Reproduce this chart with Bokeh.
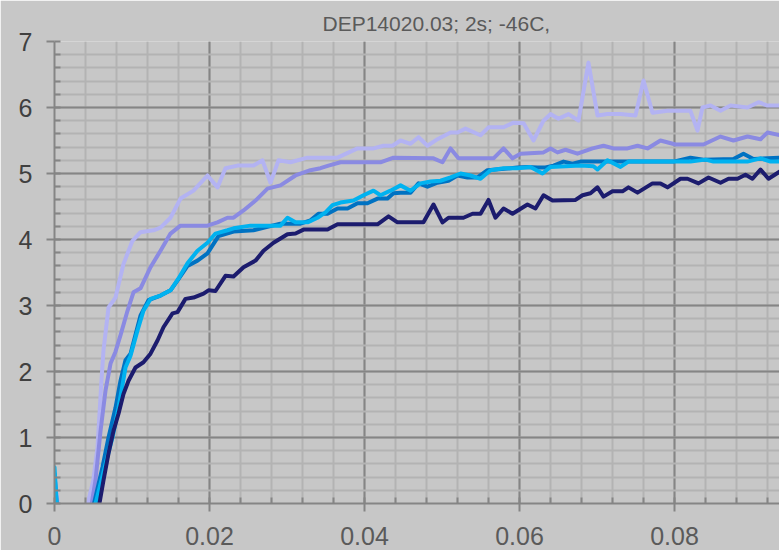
from bokeh.plotting import figure
from bokeh.models import FixedTicker
from bokeh.embed import file_html
from bokeh.resources import INLINE

title_text = "DEP14020.03; 2s; -46C,"

x_ticks = [0, 0.02, 0.04, 0.06, 0.08]
x_tick_labels = ["0", "0.02", "0.04", "0.06", "0.08"]
y_ticks = [0, 1, 2, 3, 4, 5, 6, 7]

# series 1 (lightest lavender)
L_x = [0, 0.0015, 0.0035, 0.0043, 0.0050, 0.00555, 0.00606, 0.00632, 0.00697, 0.00787, 0.0089, 0.01006, 0.0111,
       0.01277, 0.01368, 0.01497, 0.01626, 0.01794, 0.01974, 0.02103, 0.02206, 0.02361, 0.02568, 0.02684, 0.02787,
       0.0289, 0.03045, 0.03265, 0.03394, 0.03652, 0.0391, 0.04116, 0.04245, 0.04361, 0.04465, 0.04594, 0.04697,
       0.04813, 0.04942, 0.0511, 0.052, 0.05303, 0.05497, 0.056, 0.05794, 0.05923, 0.06052, 0.06181, 0.0631, 0.064,
       0.06503, 0.06632, 0.06761, 0.0689, 0.07006, 0.07135, 0.07303, 0.07497, 0.076, 0.07716, 0.0791, 0.08206,
       0.08297, 0.08361, 0.08465, 0.08594, 0.08723, 0.08942, 0.09084, 0.092, 0.0936]
L_y = [0.4, -1, -1, 0, 0.35, 0.85, 1.86, 2.32, 2.97, 3.12, 3.63, 3.98, 4.11, 4.14, 4.18, 4.33, 4.62, 4.74, 4.97,
       4.79, 5.08, 5.12, 5.12, 5.2, 4.86, 5.2, 5.17, 5.24, 5.24, 5.24, 5.38, 5.38, 5.42, 5.42, 5.5, 5.45, 5.55, 5.42,
       5.52, 5.62, 5.62, 5.68, 5.58, 5.7, 5.7, 5.77, 5.76, 5.5, 5.8, 5.9, 5.83, 5.9, 5.8, 6.68, 5.88, 5.9, 5.9, 5.88,
       6.41, 5.92, 5.95, 5.95, 5.65, 6.0, 6.03, 5.95, 6.03, 6.0, 6.08, 6.03, 6.03]

# series 2 (medium purple)
M_x = [0, 0.0012, 0.0038, 0.0048, 0.00529, 0.00594, 0.00658, 0.00723, 0.00787, 0.00852, 0.00942, 0.01019, 0.0111,
       0.01239, 0.01368, 0.01497, 0.01626, 0.01974, 0.02103, 0.02232, 0.0231, 0.02439, 0.02594, 0.02748, 0.02916,
       0.0311, 0.03303, 0.03432, 0.03535, 0.0369, 0.04206, 0.04374, 0.0489, 0.05006, 0.0511, 0.05213, 0.05665,
       0.05794, 0.0591, 0.06013, 0.0631, 0.064, 0.0649, 0.06594, 0.06748, 0.06942, 0.07084, 0.07213, 0.07394,
       0.07523, 0.07652, 0.07819, 0.08013, 0.08374, 0.08594, 0.08761, 0.08942, 0.0911, 0.092, 0.0936]
M_y = [0.3, -1, -1, 0, 0.35, 1.1, 1.71, 2.12, 2.3, 2.55, 2.92, 3.2, 3.26, 3.58, 3.83, 4.09, 4.21, 4.21, 4.26, 4.33,
       4.33, 4.44, 4.59, 4.77, 4.82, 4.97, 5.05, 5.08, 5.12, 5.17, 5.17, 5.24, 5.23, 5.17, 5.38, 5.23, 5.23, 5.38,
       5.23, 5.3, 5.32, 5.38, 5.32, 5.36, 5.3, 5.38, 5.42, 5.38, 5.38, 5.42, 5.38, 5.5, 5.44, 5.44, 5.56, 5.5, 5.56,
       5.52, 5.62, 5.58]

# series 3 (dark blue)
D_x = [0, 0.0009, 0.0038, 0.0051, 0.00619, 0.00697, 0.00787, 0.00852, 0.00916, 0.00981, 0.0111, 0.01213, 0.01368,
       0.01497, 0.016, 0.01716, 0.01845, 0.01974, 0.02116, 0.0231, 0.02568, 0.02916, 0.03174, 0.03303, 0.03406,
       0.03523, 0.03652, 0.03781, 0.0391, 0.04039, 0.04168, 0.04297, 0.04374, 0.04465, 0.04594, 0.04697, 0.04813,
       0.04942, 0.05084, 0.052, 0.05329, 0.05458, 0.05587, 0.05974, 0.06103, 0.06232, 0.06335, 0.06439, 0.06568,
       0.06684, 0.06787, 0.07045, 0.07303, 0.07987, 0.08206, 0.08374, 0.08761, 0.0889, 0.09019, 0.0936]
D_y = [0.45, -1, -1, 0, 0.55, 1.0, 1.45, 1.86, 2.17, 2.27, 2.85, 3.08, 3.15, 3.23, 3.4, 3.6, 3.68, 3.79, 4.05, 4.12,
       4.14, 4.24, 4.24, 4.29, 4.39, 4.39, 4.47, 4.47, 4.55, 4.55, 4.62, 4.62, 4.7, 4.71, 4.71, 4.85, 4.8, 4.86,
       4.89, 4.97, 4.94, 4.94, 5.05, 5.09, 5.1, 5.09, 5.09, 5.12, 5.18, 5.15, 5.18, 5.18, 5.18, 5.18, 5.24, 5.21,
       5.22, 5.3, 5.22, 5.24]

# series 4 (cyan)
C_x = [0, 0.0008, 0.0038, 0.0053, 0.00658, 0.00748, 0.00826, 0.00916, 0.00981, 0.01071, 0.01148, 0.01239, 0.01368,
       0.01497, 0.016, 0.01716, 0.01845, 0.01974, 0.02077, 0.02232, 0.0231, 0.02529, 0.02916, 0.03006, 0.0311,
       0.03265, 0.03394, 0.03497, 0.03587, 0.0369, 0.03858, 0.03987, 0.04116, 0.04206, 0.04335, 0.04465, 0.04594,
       0.04723, 0.04852, 0.04981, 0.0511, 0.05239, 0.05368, 0.05497, 0.05626, 0.05794, 0.05974, 0.06142, 0.06297,
       0.064, 0.06787, 0.06955, 0.07006, 0.07135, 0.07303, 0.07406, 0.08206, 0.084, 0.08503, 0.08942, 0.0911,
       0.09239, 0.0936]
C_y = [0.55, -1, -1, 0, 0.6, 1.0, 1.45, 2.06, 2.24, 2.62, 2.92, 3.1, 3.15, 3.23, 3.41, 3.64, 3.83, 3.95, 4.09, 4.14,
       4.17, 4.21, 4.21, 4.33, 4.26, 4.26, 4.33, 4.41, 4.52, 4.56, 4.59, 4.67, 4.74, 4.67, 4.74, 4.82, 4.74, 4.85,
       4.88, 4.89, 4.94, 5.0, 4.97, 4.92, 5.05, 5.08, 5.08, 5.1, 5.0, 5.1, 5.12, 5.11, 5.06, 5.2, 5.1, 5.18, 5.18,
       5.21, 5.18, 5.18, 5.23, 5.18, 5.18]

# series 5 (navy)
N_x = [0, 0.001, 0.0045, 0.0058, 0.00632, 0.00697, 0.00761, 0.00826, 0.0089, 0.00955, 0.01045, 0.01148, 0.01239,
       0.01329, 0.01406, 0.01523, 0.01587, 0.0169, 0.01794, 0.01923, 0.01987, 0.02077, 0.02206, 0.0231, 0.02439,
       0.02594, 0.02697, 0.02826, 0.03006, 0.0311, 0.03213, 0.03523, 0.03652, 0.04168, 0.0431, 0.04426, 0.04761,
       0.0489, 0.05006, 0.05084, 0.05277, 0.05394, 0.05497, 0.056, 0.0569, 0.05794, 0.0591, 0.06103, 0.06206, 0.0631,
       0.06426, 0.06723, 0.06813, 0.06916, 0.07006, 0.07084, 0.072, 0.07329, 0.07406, 0.07523, 0.07716, 0.07819,
       0.0791, 0.08077, 0.08168, 0.0831, 0.08439, 0.08594, 0.08697, 0.08813, 0.08916, 0.09006, 0.0911, 0.09213, 0.0936]
N_y = [-0.5, -1, -1, 0, 0.35, 0.76, 1.1, 1.36, 1.66, 1.86, 2.06, 2.14, 2.27, 2.47, 2.67, 2.88, 2.9, 3.1, 3.12, 3.18,
       3.23, 3.22, 3.45, 3.44, 3.58, 3.68, 3.83, 3.95, 4.08, 4.09, 4.15, 4.15, 4.23, 4.23, 4.35, 4.26, 4.26, 4.53,
       4.26, 4.33, 4.33, 4.39, 4.39, 4.6, 4.33, 4.47, 4.39, 4.53, 4.47, 4.67, 4.59, 4.6, 4.67, 4.7, 4.79, 4.65, 4.73,
       4.73, 4.79, 4.71, 4.85, 4.85, 4.79, 4.92, 4.92, 4.85, 4.94, 4.86, 4.92, 4.92, 4.98, 4.92, 5.06, 4.92, 5.03]

series = [
    (L_x, L_y, "#B3B3F2"),
    (M_x, M_y, "#8A8AE2"),
    (D_x, D_y, "#0072C2"),
    (C_x, C_y, "#00B2F0"),
    (N_x, N_y, "#1C1C6E"),
]
for sx, sy, _ in series:
    assert len(sx) == len(sy), (len(sx), len(sy))

BG = "#C7C7C7"
MAJOR = "#858585"
MINOR = "#B3B3B3"
FONT = "Liberation Sans"

p = figure(width=779, height=550, x_range=(0, 0.09355), y_range=(0, 7),
           output_backend="svg", toolbar_location=None,
           min_border_left=54, min_border_right=0, min_border_top=41, min_border_bottom=47,
           background_fill_color=BG, border_fill_color=BG, outline_line_color=None)

p.title.text = title_text
p.title.text_font = FONT
p.title.text_font_size = "21px"
p.title.text_font_style = "normal"
p.title.text_color = "#5A5A5A"
p.title.align = "left"
p.title.offset = 268
p.title.standoff = 14

xt = FixedTicker(ticks=x_ticks, minor_ticks=[i * 0.004 for i in range(0, 24)])
yt = FixedTicker(ticks=y_ticks, minor_ticks=[i * 0.2 for i in range(0, 36)])
p.xaxis.ticker = xt
p.yaxis.ticker = yt
p.xgrid.ticker = xt
p.ygrid.ticker = yt
p.xaxis.major_label_overrides = dict(zip(x_ticks, x_tick_labels))

for g in (p.xgrid, p.ygrid):
    g.grid_line_color = MAJOR
    g.grid_line_width = 2
    g.minor_grid_line_color = MINOR
    g.minor_grid_line_width = 2

for ax in (p.xaxis, p.yaxis):
    ax.axis_line_color = MAJOR
    ax.axis_line_width = 2
    ax.major_tick_line_color = MAJOR
    ax.major_tick_line_width = 2
    ax.major_tick_in = 0
    ax.major_tick_out = 8
    ax.minor_tick_line_color = MAJOR
    ax.minor_tick_line_width = 2
    ax.minor_tick_in = 6
    ax.minor_tick_out = 0
    ax.major_label_text_font = FONT
    ax.major_label_text_font_size = "25px"

p.yaxis.major_label_text_color = "#404040"
p.xaxis.major_label_text_color = "#5A5A5A"
p.yaxis.major_label_standoff = 14
p.xaxis.major_label_standoff = 15

for sx, sy, col in series:
    p.line(sx, sy, line_color=col, line_width=4, line_join="round", line_cap="round")

open("out.html", "w").write(file_html(p, INLINE))
